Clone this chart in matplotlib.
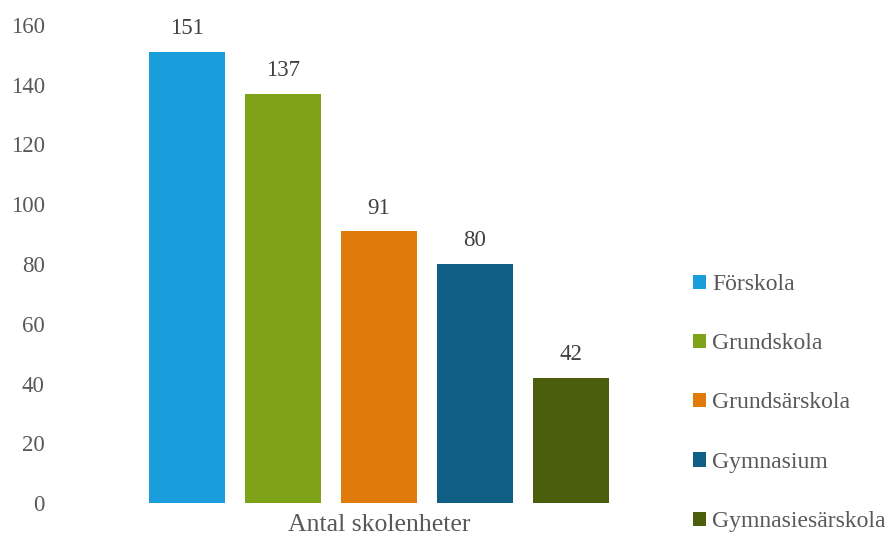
import matplotlib.pyplot as plt
from matplotlib.patches import Patch

categories = ["Förskola", "Grundskola", "Grundsärskola", "Gymnasium", "Gymnasiesärskola"]
values = [151, 137, 91, 80, 42]
colors = ["#1A9EDB", "#7EA319", "#E07A0B", "#0F5F85", "#4A5E0D"]
xlabel = "Antal skolenheter"

plt.rcParams["font.family"] = ["Liberation Serif", "DejaVu Serif"]
txt = "#595959"

fig = plt.figure(figsize=(8.91, 5.35), dpi=100)
W, H = 891, 535
# axes: left 60px, right 698px, bottom y=503, top y=25
ax = fig.add_axes([60 / W, (H - 503) / H, 638 / W, 478 / H])

xs = list(range(len(values)))
bars = ax.bar(xs, values, width=76 / 96, color=colors)
half = 638 / 96 / 2
ax.set_xlim(2 - half, 2 + half)
ax.set_ylim(0, 160)
ax.set_yticks(range(0, 161, 20))
ax.set_xticks([])

for b, v in zip(bars, values):
    ax.annotate(str(v), (b.get_x() + b.get_width() / 2, v), xytext=(0, 9),
                textcoords="offset points", ha="center", va="bottom",
                fontsize=16.5, color="#404040")

for s in ax.spines.values():
    s.set_visible(False)
ax.tick_params(axis="y", length=0, pad=11, labelsize=16.5, labelcolor=txt)
ax.set_xlabel(xlabel, fontsize=18.5, color=txt, labelpad=8)

handles = [Patch(facecolor=c, edgecolor="none") for c in colors]
fig.legend(handles, categories, loc="upper left", bbox_to_anchor=(693 / W, (H - 274) / H),
           frameon=False, fontsize=17, labelcolor=txt, handlelength=0.55, handleheight=0.55,
           handletextpad=0.25, labelspacing=1.62, borderpad=0, borderaxespad=0)

fig.savefig("out.png", dpi=100)
